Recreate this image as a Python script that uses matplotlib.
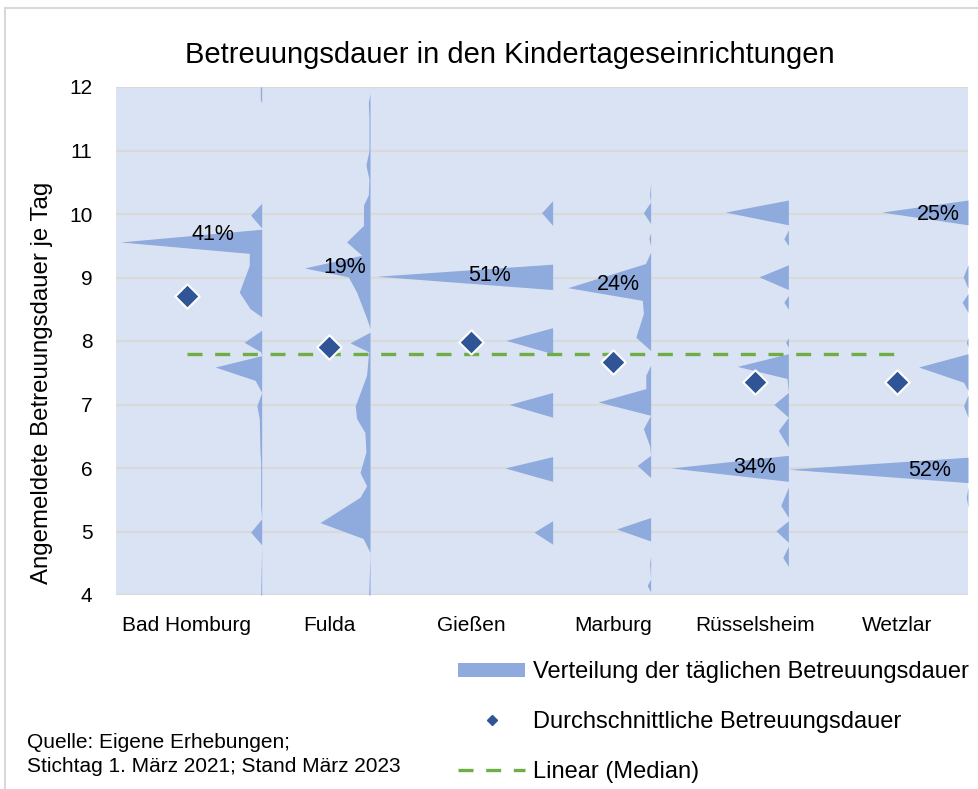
import numpy as np
import matplotlib
matplotlib.use("Agg")
from matplotlib import pyplot as plt
from matplotlib.lines import Line2D
from matplotlib.patches import Patch, Rectangle

plt.rcParams['font.family'] = ['Liberation Sans', 'DejaVu Sans']

# Daten
staedte = ["Bad Homburg", "Fulda", "Gießen", "Marburg", "Rüsselsheim", "Wetzlar"]
durchschnitt = [8.71, 7.90, 7.98, 7.67, 7.36, 7.36]
median = 7.79

# Verteilung je Stadt: Stunden und Anteil in %
bad_homburg_h = [12.0, 11.8, 11.75, 10.2, 10.17, 9.98, 9.78, 9.76, 9.56, 9.38, 9.19, 8.77, 8.51, 8.38,
                 8.17, 7.98, 7.83, 7.77, 7.59, 7.38, 7.19, 6.98, 6.78, 6.25, 6.1, 5.4, 5.2, 4.99, 4.79, 4.0]
bad_homburg_p = [0.4, 0.4, 0, 0, 0, 3.2, 0, 0, 41, 3.6, 3.6, 6.5, 3.4, 0,
                 0, 5.1, 0.3, 0, 13.5, 1.9, 0, 1.4, 0.7, 0.5, 0.3, 0.3, 0, 3.2, 0, 0.3]

fulda_h = [11.9, 11.75, 11.5, 11.0, 10.77, 10.55, 10.3, 10.14, 9.82, 9.56, 9.35, 9.15, 9.01, 8.77, 8.36,
           8.2, 8.14, 7.97, 7.83, 7.46, 6.98, 6.78, 6.56, 6.25, 5.93, 5.72, 5.54, 5.14, 4.89, 4.67, 4.0]
fulda_p = [0, 0.5, 0.3, 0.3, 1.2, 0.3, 0.5, 1.9, 1.9, 6.8, 2.4, 19, 6.3, 3.9, 1.0,
           0, 0, 5.8, 0.4, 1.0, 4.3, 3.9, 1.5, 1.2, 2.9, 1.0, 2.9, 14.5, 2.0, 0, 0.4]

giessen_h = [10.21, 10.02, 9.82, 9.21, 9.02, 8.81, 8.21, 8.01, 7.80, 7.19, 7.0, 6.80,
             6.18, 6.0, 5.79, 5.17, 4.99, 4.80]
giessen_p = [0, 3.2, 0, 0, 51, 0, 0, 13.5, 0, 0, 12.6, 0,
             0, 13.8, 0, 0, 5.4, 0]

marburg_h = [10.49, 10.3, 10.19, 10.02, 9.85, 9.7, 9.62, 9.5, 9.40, 9.22, 8.84, 8.64, 8.43, 8.06, 7.85,
             7.62, 7.46, 7.25, 7.04, 6.83, 6.62, 6.35, 6.2, 6.04, 5.85, 5.22, 5.04, 4.85, 4.6, 4.5,
             4.25, 4.15, 4.05]
marburg_p = [0, 0.3, 0, 2.1, 0, 0, 0.5, 0, 0, 1.5, 24, 2.4, 2.1, 4.3, 0,
             0, 1.4, 1.4, 15.2, 0, 2.1, 0.3, 0, 3.9, 0, 0, 9.9, 0, 0, 0.3,
             0, 1.0, 0]

ruesselsheim_h = [10.22, 10.03, 9.83, 9.75, 9.61, 9.5, 9.20, 9.01, 8.81, 8.72, 8.61, 8.5, 8.05, 7.98, 7.9,
                  7.80, 7.60, 7.41, 7.19, 7.0, 6.80, 6.59, 6.33, 6.20, 6.0, 5.79, 5.7, 5.41, 5.22,
                  5.17, 5.01, 4.83, 4.77, 4.59, 4.45]
ruesselsheim_p = [0, 18.3, 0, 0, 1.3, 0, 0, 8.5, 0, 0, 1.3, 0, 0, 0.8, 0,
                  0, 14.8, 0.4, 0, 4.2, 0, 2.9, 0, 0, 34, 0, 0, 2.2, 0,
                  0, 3.6, 0, 0, 1.6, 0]

wetzlar_h = [10.22, 10.03, 9.83, 9.2, 9.01, 8.83, 8.75, 8.61, 8.45, 8.05, 7.98, 7.9, 7.80, 7.59, 7.35,
             7.22, 7.15, 6.98, 6.8, 6.17, 5.98, 5.77, 5.7, 5.54, 5.38]
wetzlar_p = [0, 25, 0, 0, 1.4, 0, 0, 1.7, 0, 0, 0.5, 0, 0, 14.3, 1.3,
             0, 0, 1.3, 0, 0, 52, 0, 0, 0.5, 0]

verteilungen = [(bad_homburg_h, bad_homburg_p), (fulda_h, fulda_p), (giessen_h, giessen_p),
                (marburg_h, marburg_p), (ruesselsheim_h, ruesselsheim_p), (wetzlar_h, wetzlar_p)]

# beschriftete Spitzen
spitzen_wert = [41, 19, 51, 24, 34, 52, 25]

# Layout
basis_offset = [0.526, 0.289, 0.575, 0.265, 0.235, 0.5]
breite_pro_prozent = 0.0243
label_pos = [(0.183, 9.67), (1.113, 9.15), (2.134, 9.03), (3.035, 8.89),
             (4.0, 6.01), (5.232, 5.96), (5.289, 10.0)]

hintergrund = '#DAE3F3'
flaeche = '#8FAADC'
raute = '#2F5597'
gruen = '#70AD47'

fig = plt.figure(figsize=(9.79, 7.89), dpi=100)
ax = fig.add_axes([116 / 979, 1 - 595 / 789, 852 / 979, 508 / 789])
ax.set_facecolor(hintergrund)

# Verteilungsflaechen
for i, (h, p) in enumerate(verteilungen):
    basis = i + basis_offset[i]
    h = np.array(h)
    p = np.array(p)
    ax.fill_betweenx(h, basis - p * breite_pro_prozent, basis, color=flaeche, lw=0, zorder=2)

x = np.arange(len(staedte))
ax.plot([x[0], x[-1]], [median, median], color=gruen, lw=2.4, ls=(0, (4.5, 3.8)), zorder=3)
ax.scatter(x, durchschnitt, marker='D', s=155, color=raute, edgecolors='white', linewidths=1.5, zorder=4)

for (lx, ly), w in zip(label_pos, spitzen_wert):
    ax.text(lx, ly, f"{w}%", ha='center', va='center', fontsize=15.5, zorder=5)

ax.set_xlim(-0.5, 5.5)
ax.set_ylim(4, 12)
ax.set_yticks(range(4, 13))
ax.grid(axis='y', color='#D9D9D9', lw=1.5, zorder=1)
ax.set_axisbelow(True)
for s in ax.spines.values():
    s.set_visible(False)
ax.tick_params(axis='y', length=0, pad=17, labelsize=15)
ax.set_xticks(x)
ax.set_xticklabels(staedte, fontsize=15)
ax.tick_params(axis='x', length=0, pad=15)

fig.text(510 / 979, 1 - 55 / 789, "Betreuungsdauer in den Kindertageseinrichtungen",
         ha='center', va='center', fontsize=21)
fig.text(42 / 979, 1 - 383 / 789, "Angemeldete Betreuungsdauer je Tag", rotation=90,
         ha='center', va='center', fontsize=17.3)

fig.text(27 / 979, 1 - 742 / 789, "Quelle: Eigene Erhebungen;", va='center', fontsize=15)
fig.text(27 / 979, 1 - 767 / 789, "Stichtag 1. März 2021; Stand März 2023", va='center', fontsize=15)

handles = [Patch(facecolor=flaeche, edgecolor='none'),
           Line2D([], [], marker='D', ls='none', color=raute, markersize=5),
           Line2D([], [], color=gruen, lw=2.4, ls=(0, (4.5, 3.8)))]
labels = ["Verteilung der täglichen Betreuungsdauer", "Durchschnittliche Betreuungsdauer", "Linear (Median)"]
fig.legend(handles, labels, loc='upper left', bbox_to_anchor=(458 / 979, 1 - 661 / 789), frameon=False,
           fontsize=17, handlelength=2.84, handleheight=0.52, labelspacing=1.18, handletextpad=0.34,
           borderpad=0, borderaxespad=0)

fig.patches.append(Rectangle((5 / 979, -0.1), 1.1, (789 - 8) / 789 + 0.1, transform=fig.transFigure,
                             fill=False, edgecolor='#D9D9D9', lw=1.5))

fig.savefig("out.png", dpi=100)
